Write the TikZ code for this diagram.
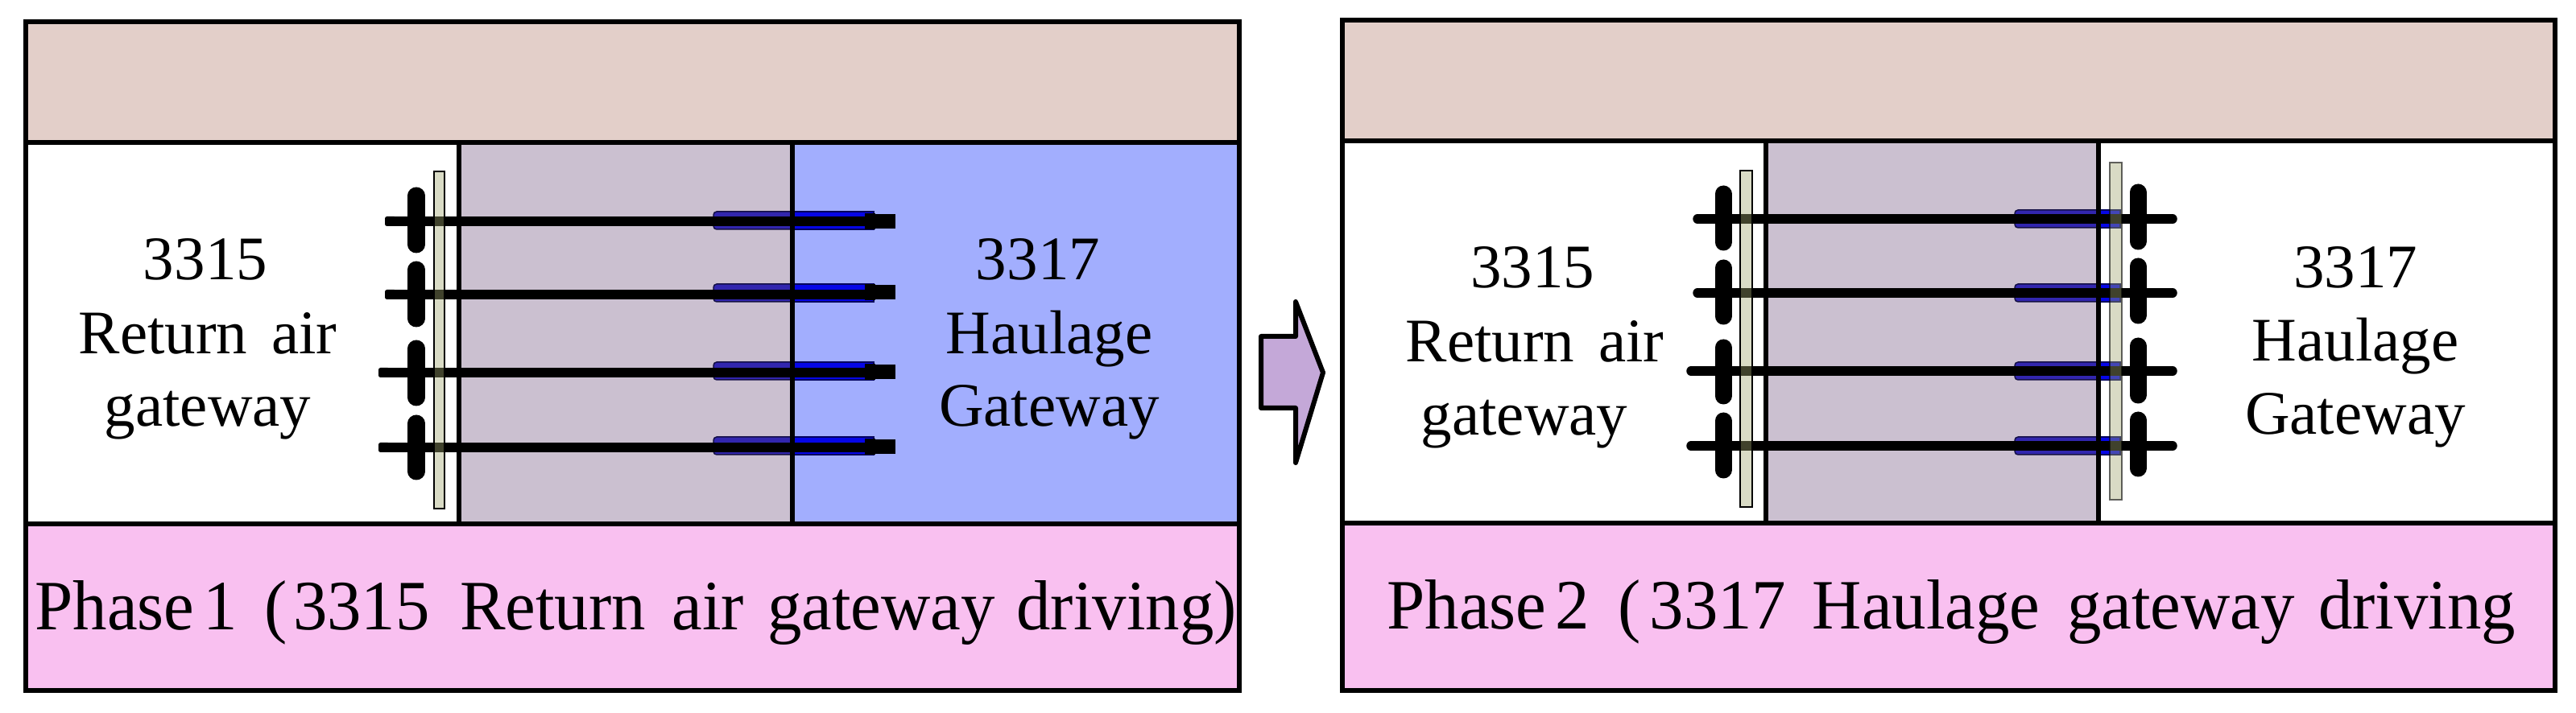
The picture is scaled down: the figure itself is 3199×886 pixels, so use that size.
\documentclass[tikz,border=0pt]{standalone}
\usepackage{fontspec}
\setmainfont{Liberation Serif}
\newfontfamily\capfont[FakeStretch=0.965]{Liberation Serif}
\definecolor{bandc}{HTML}{E3CFC9}
\definecolor{rockc}{HTML}{CBC0D0}
\definecolor{bluec}{HTML}{A2AEFE}
\definecolor{pinkc}{HTML}{F9C0F0}
\definecolor{barc}{RGB}{160,167,112}
\definecolor{sleevea}{HTML}{3226AE}
\definecolor{sleeveb}{HTML}{0606E6}
\definecolor{arrowc}{HTML}{C4A8D8}
\tikzset{
  panel/.style={draw=black,line width=0.06cm,line join=miter},
  divider/.style={draw=black,line width=0.055cm},
  bolt/.style={draw=black,line width=0.115cm},
  pill/.style={draw=black,line width=0.21cm,line cap=round},
  plate/.style={draw=black,line width=0.018cm,fill=barc,fill opacity=0.4},
  sleeveL/.style={fill=sleevea,draw=black!60!sleevea,line width=0.015cm,rounded corners=0.04cm},
  sleeveR/.style={fill=sleeveb,draw=black!60!sleeveb,line width=0.015cm},
  lbl/.style={anchor=base,inner sep=0pt,font=\fontsize{21.9pt}{24pt}\selectfont},
  captionlbl/.style={anchor=base west,inner sep=0pt,font=\capfont\fontsize{25pt}{28pt}\selectfont},
}
\begin{document}
\begin{tikzpicture}[x=0.01cm,y=-0.01cm]
\useasboundingbox (0,0) rectangle (3199,886);
\fill[white] (0,0) rectangle (3199,886);
% Phase 1 fills
\fill[bandc] (32,27) rectangle (1539,177);
\fill[rockc] (570,177) rectangle (984,651);
\fill[bluec] (984,177) rectangle (1539,651);
\fill[pinkc] (32,651) rectangle (1539,858);
% Phase 2 fills
\fill[bandc] (1667,25) rectangle (3173,175);
\fill[rockc] (2193,175) rectangle (2606,650);
\fill[pinkc] (1667,650) rectangle (3173,858);
% Phase 1 sleeves
\foreach \r in {275,365,462,555}{
  \path[sleeveL] (886,\r-12) rectangle (1000,\r+10);
  \path[sleeveR] (984,\r-12) rectangle (1085,\r+10);
}
% Phase 2 sleeves
\foreach \r in {272,364,461,554}{
  \path[sleeveL] (2502,\r-11) rectangle (2615,\r+11);
  \path[sleeveR] (2606,\r-11) rectangle (2633,\r+11);
}
% panels outlines and dividers
\draw[panel] (32,27) rectangle (1539,858);
\draw[panel] (32,177) -- (1539,177);
\draw[panel] (32,651) -- (1539,651);
\draw[divider] (570,177) -- (570,651);
\draw[divider] (984,177) -- (984,651);
\draw[panel] (1667,25) rectangle (3173,858);
\draw[panel] (1667,175) -- (3173,175);
\draw[panel] (1667,650) -- (3173,650);
\draw[divider] (2193,175) -- (2193,650);
\draw[divider] (2606,175) -- (2606,650);
% Phase 1 bolts
\foreach \r/\xa/\h in {275/478/275,366/478/363,463/470/462,556/470/555}{
  \draw[bolt] (\xa+6,\r) -- (1080,\r);
  \fill[black,rounded corners=0.025cm] (\xa,\r-6) rectangle (\xa+14,\r+6);
  \fill[black] (1074,\h-10) rectangle (1087,\h+10);
  \fill[black] (1080,\h-9) rectangle (1112,\h+9);
}
\foreach \a/\b in {233/314,325/406,423/504,516/596}{
  \draw[pill] (517,\a+10) -- (517,\b-10);
}
\draw[plate] (539,213) rectangle (552,632);
% Phase 2 bolts
\foreach \r/\xa in {272/2102,364/2102,461/2094,554/2094}{
  \draw[bolt,line cap=round] (\xa+6,\r) -- (2698,\r);
}
\foreach \a/\b in {231/311,323/403,422/502,513/594}{
  \draw[pill] (2140,\a+10) -- (2140,\b-10);
}
\foreach \a/\b in {229/310,321/402,420/501,512/592}{
  \draw[pill] (2655,\a+10) -- (2655,\b-10);
}
\draw[plate] (2161,212) rectangle (2176,630);
\draw[plate,draw opacity=0.6] (2620,202) rectangle (2635,621);
% transition arrow
\draw[draw=black,line width=0.06cm,line join=round,fill=arrowc]
  (1566,418) -- (1609,418) -- (1609,375) -- (1643,463) -- (1609,575) -- (1609,507) -- (1566,507) -- cycle;
% labels
\node[lbl] (la) at (255,348) {3315};
\node[lbl] (lb) at (258,440) {Return\kern3pt{} air};
\node[lbl] (lc) at (258,530) {gateway};
\node[lbl] (ld) at (1289,348) {3317};
\node[lbl] (le) at (1303,440) {Haulage};
\node[lbl] (lf) at (1303,530) {Gateway};
\node[lbl] (ra) at (1903,358) {3315};
\node[lbl] (rb) at (1906,450) {Return\kern3pt{} air};
\node[lbl] (rc) at (1893,541) {gateway};
\node[lbl] (rd) at (2925,358) {3317};
\node[lbl] (re) at (2925,449) {Haulage};
\node[lbl] (rf) at (2925,540) {Gateway};
\node[captionlbl] (pa) at (43,783) {Phase\kern3.2pt 1 \kern3.5pt(\kern2pt 3315 \kern4.6pt Return \kern3.2pt air \kern2.2pt gateway \kern1.6pt driving)};
\node[captionlbl] (pb) at (1722,782) {Phase\kern3.2pt 2 \kern4.1pt(\kern3pt 3317 \kern3.2pt Haulage \kern3.5pt gateway \kern2.3pt driving};
\end{tikzpicture}
\end{document}
